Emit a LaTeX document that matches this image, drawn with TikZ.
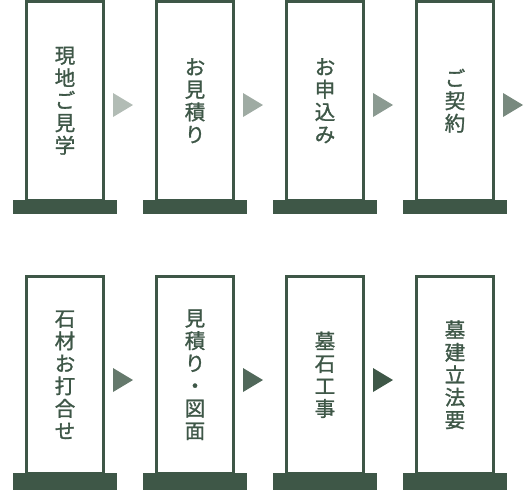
\documentclass[tikz,border=0pt]{standalone}
\usepackage{fontspec}
\newfontfamily\jpfont[FakeBold=1.2]{Noto Sans CJK JP}
\definecolor{stone}{HTML}{3E5747}
\tikzset{
  panel/.style={draw=stone, line width=3pt, fill=white, minimum width=77pt,
    inner sep=0pt, text=stone, align=center,
    font=\jpfont\fontsize{20.5}{22.5}\selectfont},
  plinth/.style={fill=stone, draw=none, minimum width=104pt,
    minimum height=14pt, inner sep=0pt},
  toprow/.style={panel, minimum height=198.5pt},
  lowrow/.style={panel, minimum height=196.5pt},
}
\begin{document}
\begin{tikzpicture}[x=1pt, y=-1pt]
        \useasboundingbox (0,0) rectangle (524,490);
        % Top row
        \node[toprow] (genchi) at (65,100.75) {現\\地\\ご\\見\\学};
        \node[toprow] (mitsumori) at (195,100.75) {お\\見\\積\\り};
        \node[toprow] (moushikomi) at (325,100.75) {お\\申\\込\\み};
        \node[toprow] (keiyaku) at (455,100.75) {ご\\契\\約};
        \node[plinth] (genchi-base) at (65,207) {};
        \node[plinth] (mitsumori-base) at (195,207) {};
        \node[plinth] (moushikomi-base) at (325,207) {};
        \node[plinth] (keiyaku-base) at (455,207) {};
        % Bottom row
        \node[lowrow] (sekizai) at (65,374.75) {石\\材\\お\\打\\合\\せ};
        \node[lowrow] (zumen) at (195,374.75) {見\\積\\り\\・\\図\\面};
        \node[lowrow] (kouji) at (325,374.75) {墓\\石\\工\\事};
        \node[lowrow] (houyou) at (455,374.75) {墓\\建\\立\\法\\要};
        \node[plinth, minimum height=17pt] (sekizai-base) at (65,481.5) {};
        \node[plinth, minimum height=17pt] (zumen-base) at (195,481.5) {};
        \node[plinth, minimum height=17pt] (kouji-base) at (325,481.5) {};
        \node[plinth, minimum height=17pt] (houyou-base) at (455,481.5) {};
        % Step arrows, getting darker
        \fill[stone!40] (113,93) -- (133,105) -- (113,117) -- cycle;
        \fill[stone!50] (243,93) -- (263,105) -- (243,117) -- cycle;
        \fill[stone!60] (373,93) -- (393,105) -- (373,117) -- cycle;
        \fill[stone!70] (503,93) -- (523,105) -- (503,117) -- cycle;
        \fill[stone!80] (113,368) -- (133,380) -- (113,392) -- cycle;
        \fill[stone!90] (243,368) -- (263,380) -- (243,392) -- cycle;
        \fill[stone] (373,368) -- (393,380) -- (373,392) -- cycle;
    \end{tikzpicture}
\end{document}
